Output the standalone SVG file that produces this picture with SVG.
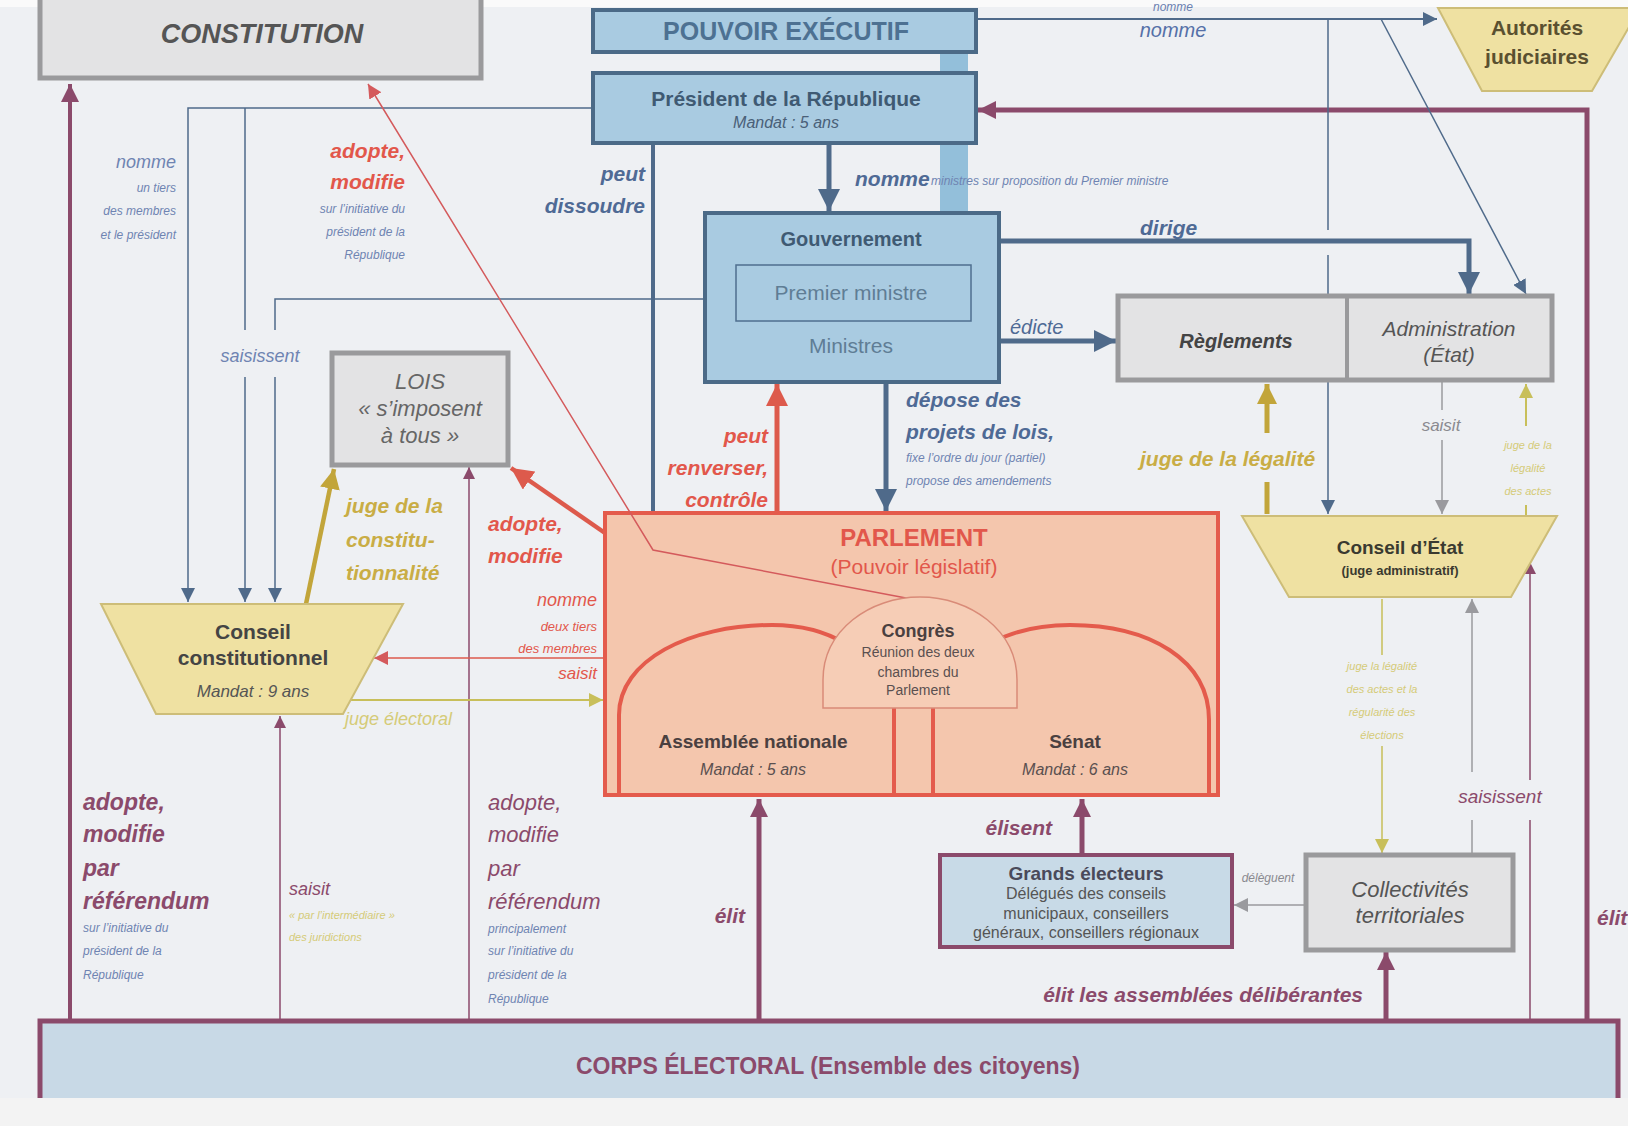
<svg xmlns="http://www.w3.org/2000/svg" width="1628" height="1126" viewBox="0 0 1628 1126">
<defs>
<style>
text{font-family:"Liberation Sans",Arial,sans-serif}
.n{font-family:"Liberation Sans Narrow","Liberation Sans",sans-serif}
.bi{font-weight:bold;font-style:italic}
.i{font-style:italic}
.b{font-weight:bold}
.c{text-anchor:middle}
.e{text-anchor:end}
.gbox{fill:#e3e3e4;stroke:#9a9a9c;stroke-width:5}
.bbox{fill:#a9cbe1;stroke:#4b6a87;stroke-width:4}
.trap{fill:#efe1a2;stroke:#cdbd78;stroke-width:2}
.mar{fill:#8b4a6b}
.blu{fill:#4f6a95}
.sblu{fill:#6f84b2}
.red{fill:#e2574b}
.gold{fill:#c9ad45}
.yel{fill:#d5cb78}
.gry{fill:#8a8a90}
#connectors path{fill:none}
.sM{stroke:#8b4a6b}
.sB{stroke:#4f6a8a}
.sR{stroke:#dd5a4c}
.sG{stroke:#c2a53a}
.sY{stroke:#c8bf5a}
.sGr{stroke:#9a9a9e}
</style>
<marker id="aM" markerUnits="userSpaceOnUse" markerWidth="18" markerHeight="18" refX="18" refY="9" orient="auto"><path d="M0,0 L18,9 L0,18 z" fill="#8b4a6b"/></marker>
<marker id="aMs" markerUnits="userSpaceOnUse" markerWidth="12" markerHeight="12" refX="12" refY="6" orient="auto"><path d="M0,0 L12,6 L0,12 z" fill="#8b4a6b"/></marker>
<marker id="aB" markerUnits="userSpaceOnUse" markerWidth="22" markerHeight="22" refX="22" refY="11" orient="auto"><path d="M0,0 L22,11 L0,22 z" fill="#4f6a8a"/></marker>
<marker id="aBs" markerUnits="userSpaceOnUse" markerWidth="14" markerHeight="14" refX="14" refY="7" orient="auto"><path d="M0,0 L14,7 L0,14 z" fill="#4f6a8a"/></marker>
<marker id="aR" markerUnits="userSpaceOnUse" markerWidth="22" markerHeight="22" refX="22" refY="11" orient="auto"><path d="M0,0 L22,11 L0,22 z" fill="#dd5a4c"/></marker>
<marker id="aRs" markerUnits="userSpaceOnUse" markerWidth="14" markerHeight="14" refX="14" refY="7" orient="auto"><path d="M0,0 L14,7 L0,14 z" fill="#d45a5c"/></marker>
<marker id="aG" markerUnits="userSpaceOnUse" markerWidth="20" markerHeight="20" refX="20" refY="10" orient="auto"><path d="M0,0 L20,10 L0,20 z" fill="#c2a53a"/></marker>
<marker id="aY" markerUnits="userSpaceOnUse" markerWidth="14" markerHeight="14" refX="14" refY="7" orient="auto"><path d="M0,0 L14,7 L0,14 z" fill="#c8bf5a"/></marker>
<marker id="aGr" markerUnits="userSpaceOnUse" markerWidth="14" markerHeight="14" refX="14" refY="7" orient="auto"><path d="M0,0 L14,7 L0,14 z" fill="#9a9a9e"/></marker>
</defs>

<rect x="0" y="0" width="1628" height="1126" fill="#eef0f3"/>
<rect x="0" y="1098" width="1628" height="28" fill="#f3f3f3"/>
<rect x="0" y="0" width="1628" height="7" fill="#fafafa"/>

<!-- background band -->
<rect x="940" y="52" width="28" height="161" fill="#93bfda"/>

<g id="connectors">
<path class="sM" stroke-width="4" d="M70,1021 V84" marker-end="url(#aM)"/>
<path class="sM" stroke-width="1.5" d="M280,1021 V716" marker-end="url(#aMs)"/>
<path class="sM" stroke-width="1.5" d="M469,1021 V467" marker-end="url(#aMs)"/>
<path class="sM" stroke-width="5" d="M759,1021 V799" marker-end="url(#aM)"/>
<path class="sM" stroke-width="5" d="M1082,855 V799" marker-end="url(#aM)"/>
<path class="sM" stroke-width="5" d="M1386,1021 V952" marker-end="url(#aM)"/>
<path class="sM" stroke-width="5" d="M1587,1021 V110 H978" marker-end="url(#aM)"/>
<path class="sM" stroke-width="1.5" d="M1530,1021 V820 M1530,780 V562" marker-end="url(#aMs)"/>
<path class="sGr" stroke-width="1.5" d="M1306,905 H1234" marker-end="url(#aGr)"/>
<path class="sGr" stroke-width="1.5" d="M1472,853 V820 M1472,772 V599" marker-end="url(#aGr)"/>
<path class="sY" stroke-width="1.5" d="M1382,599 V655 M1382,746 V853" marker-end="url(#aY)"/>
<path class="sY" stroke-width="2" d="M1526,516 V505 M1526,426 V384" marker-end="url(#aY)"/>
<path class="sG" stroke-width="5" d="M1267,514 V482 M1267,433 V384" marker-end="url(#aG)"/>
<path class="sGr" stroke-width="1.5" d="M1442,382 V410 M1442,440 V514" marker-end="url(#aGr)"/>
<path class="sB" stroke-width="2" d="M976,19 H1437" marker-end="url(#aBs)"/>
<path class="sB" stroke-width="1.5" d="M1328,19 V230 M1328,255 V294 M1328,382 V514" marker-end="url(#aBs)"/>
<path class="sB" stroke-width="1.5" d="M1381,19 L1526,294" marker-end="url(#aBs)"/>
<path class="sB" stroke-width="5" d="M829,143 V211" marker-end="url(#aB)"/>
<path class="sB" stroke-width="4" d="M653,143 V650" marker-end="url(#aB)"/>
<path class="sR" stroke-width="5" d="M777,628 V384" marker-end="url(#aR)"/>
<path class="sB" stroke-width="5" d="M886,382 V511" marker-end="url(#aB)"/>
<path class="sB" stroke-width="5" d="M999,341 H1116" marker-end="url(#aB)"/>
<path class="sB" stroke-width="5" d="M999,241 H1469 V294" marker-end="url(#aB)"/>
<path class="sB" stroke-width="1.5" d="M593,108 H188 V602" marker-end="url(#aBs)"/>
<path class="sB" stroke-width="1.5" d="M245,108 V330 M245,377 V602" marker-end="url(#aBs)"/>
<path class="sB" stroke-width="1.5" d="M736,299 H275 V330 M275,377 V602" marker-end="url(#aBs)"/>
<path class="sR" stroke-width="4.5" d="M605,533 L511,468" marker-end="url(#aR)"/>
<path class="sG" stroke-width="4.5" d="M306,604 L334,469" marker-end="url(#aG)"/>
<path class="sR" stroke-width="1.5" d="M605,658 H374" marker-end="url(#aRs)"/>
<path class="sY" stroke-width="2" d="M351,700 H603" marker-end="url(#aY)"/>
</g>

<g id="parlement">
<rect x="605" y="513" width="613" height="282" fill="#f4c6ad" stroke="#e45b4c" stroke-width="4"/>
<text x="914" y="546" class="c b red" font-size="24">PARLEMENT</text>
<text x="914" y="574" class="c red" font-size="21">(Pouvoir législatif)</text>
</g>
<g id="assemblee">
<path d="M619,793 V715 C619,660 690,625 772,625 C830,625 870,650 894,700 V793" fill="#f4c6ad" stroke="#e45b4c" stroke-width="4"/>
<text x="753" y="748" class="c b" font-size="19" fill="#4a4040">Assemblée nationale</text>
<text x="753" y="775" class="c i" font-size="16" fill="#5a5050">Mandat : 5 ans</text>
</g>
<g id="senat">
<path d="M933,793 V700 C960,650 1010,625 1070,625 C1150,625 1209,660 1209,720 V793" fill="#f4c6ad" stroke="#e45b4c" stroke-width="4"/>
<text x="1075" y="748" class="c b" font-size="19" fill="#4a4040">Sénat</text>
<text x="1075" y="775" class="c i" font-size="16" fill="#5a5050">Mandat : 6 ans</text>
</g>
<path d="M906,598 L653,550 L368,84" fill="none" stroke="#d45a5c" stroke-width="1.5" marker-end="url(#aRs)"/>
<g id="congres">
<path d="M823,708 V680 C823,630 870,597 920,597 C970,597 1017,630 1017,680 V708 Z" fill="#f6cdb6" stroke="#d98b78" stroke-width="1.5"/>
<text x="918" y="637" class="c b" font-size="18" fill="#4a4040">Congrès</text>
<text x="918" y="657" class="c" font-size="14" fill="#5a5050">Réunion des deux</text>
<text x="918" y="677" class="c" font-size="14" fill="#5a5050">chambres du</text>
<text x="918" y="695" class="c" font-size="14" fill="#5a5050">Parlement</text>
</g>

<g id="constitution">
<rect x="40" y="-6" width="441" height="84" class="gbox"/>
<text x="262" y="43" class="c bi" font-size="27" fill="#555">CONSTITUTION</text>
</g>
<g id="pouvoir-executif">
<rect x="593" y="10" width="383" height="42" class="bbox"/>
<text x="786" y="40" class="c b" font-size="25" fill="#4d7192">POUVOIR EXÉCUTIF</text>
</g>
<g id="president">
<rect x="593" y="73" width="383" height="70" class="bbox"/>
<text x="786" y="106" class="c b" font-size="21" fill="#3f5a73">Président de la République</text>
<text x="786" y="128" class="c i" font-size="16" fill="#4a6078">Mandat : 5 ans</text>
</g>
<g id="gouvernement">
<rect x="705" y="213" width="294" height="169" class="bbox"/>
<text x="851" y="246" class="c b" font-size="20" fill="#3f5a73">Gouvernement</text>
<rect x="736" y="265" width="235" height="56" fill="none" stroke="#4f6f8f" stroke-width="1.5"/>
<text x="851" y="300" class="c" font-size="21" fill="#5f7d95">Premier ministre</text>
<text x="851" y="353" class="c" font-size="21" fill="#5f7d95">Ministres</text>
</g>
<g id="reglements-administration">
<rect x="1118" y="296" width="434" height="84" class="gbox"/>
<line x1="1347" y1="296" x2="1347" y2="380" stroke="#9a9a9c" stroke-width="4"/>
<text x="1236" y="348" class="c bi" font-size="20" fill="#444">Règlements</text>
<text x="1449" y="336" class="c i" font-size="21" fill="#555">Administration</text>
<text x="1449" y="362" class="c i" font-size="21" fill="#555">(État)</text>
</g>
<g id="autorites-judiciaires">
<polygon points="1438,8 1640,8 1592,91 1482,91" class="trap"/>
<text x="1537" y="35" class="c b" font-size="21" fill="#5a5030">Autorités</text>
<text x="1537" y="64" class="c b" font-size="21" fill="#5a5030">judiciaires</text>
</g>
<g id="conseil-etat">
<polygon points="1242,516 1557,516 1511,597 1289,597" class="trap"/>
<text x="1400" y="554" class="c b" font-size="19" fill="#3a3a30">Conseil d’État</text>
<text x="1400" y="575" class="c b" font-size="13" fill="#3a3a30">(juge administratif)</text>
</g>
<g id="conseil-constitutionnel">
<polygon points="101,604 403,604 343,714 156,714" class="trap"/>
<text x="253" y="639" class="c b" font-size="21" fill="#444">Conseil</text>
<text x="253" y="665" class="c b" font-size="21" fill="#444">constitutionnel</text>
<text x="253" y="697" class="c i" font-size="17" fill="#555">Mandat : 9 ans</text>
</g>
<g id="lois">
<rect x="332" y="353" width="176" height="112" class="gbox"/>
<text x="420" y="389" class="c i" font-size="22" fill="#666">LOIS</text>
<text x="420" y="416" class="c i" font-size="22" fill="#666">« s’imposent</text>
<text x="420" y="443" class="c i" font-size="22" fill="#666">à tous »</text>
</g>
<g id="grands-electeurs">
<rect x="940" y="855" width="292" height="92" fill="#c8dae7" stroke="#8b4a6b" stroke-width="4"/>
<text x="1086" y="880" class="c b" font-size="19" fill="#4a4a5a">Grands électeurs</text>
<text x="1086" y="899" class="c" font-size="16" fill="#555">Délégués des conseils</text>
<text x="1086" y="919" class="c" font-size="16" fill="#555">municipaux, conseillers</text>
<text x="1086" y="938" class="c" font-size="16" fill="#555">généraux, conseillers régionaux</text>
</g>
<g id="collectivites">
<rect x="1306" y="855" width="207" height="95" class="gbox"/>
<text x="1410" y="897" class="c i" font-size="22" fill="#555">Collectivités</text>
<text x="1410" y="923" class="c i" font-size="22" fill="#555">territoriales</text>
</g>
<g id="corps-electoral">
<rect x="40" y="1021" width="1578" height="77" fill="#c8d9e6"/>
<path d="M40,1098 V1021 H1618 V1098" fill="none" stroke="#8b4a6b" stroke-width="5"/>
<text x="828" y="1074" class="c b" font-size="23" fill="#8b4a6b">CORPS ÉLECTORAL (Ensemble des citoyens)</text>
</g>

<g id="labels">
<text x="1173" y="11" class="c i" font-size="12" fill="#6a7fb0">nomme</text>
<text x="1173" y="37" class="c i" font-size="20" fill="#5570a8" font-family="DejaVu Sans">nomme</text>
<text x="176" y="168" class="e i n sblu" font-size="18">nomme</text>
<text x="176" y="192" class="e i n sblu" font-size="12">un tiers</text>
<text x="176" y="215" class="e i n sblu" font-size="12">des membres</text>
<text x="176" y="239" class="e i n sblu" font-size="12">et le président</text>
<text x="405" y="158" class="e bi n red" font-size="21">adopte,</text>
<text x="405" y="189" class="e bi n red" font-size="21">modifie</text>
<text x="405" y="213" class="e i n sblu" font-size="12">sur l’initiative du</text>
<text x="405" y="236" class="e i n sblu" font-size="12">président de la</text>
<text x="405" y="259" class="e i n sblu" font-size="12">République</text>
<text x="645" y="181" class="e bi n blu" font-size="21">peut</text>
<text x="645" y="213" class="e bi n blu" font-size="21">dissoudre</text>
<text x="855" y="186" class="bi n blu" font-size="21">nomme</text>
<text x="931" y="185" class="i n sblu" font-size="12">ministres sur proposition du Premier ministre</text>
<text x="1140" y="235" class="bi n blu" font-size="21">dirige</text>
<text x="1010" y="334" class="i n blu" font-size="20">édicte</text>
<text x="260" y="362" class="c i n sblu" font-size="18">saisissent</text>
<text x="346" y="513" class="bi n gold" font-size="21">juge de la</text>
<text x="346" y="547" class="bi n gold" font-size="21">constitu-</text>
<text x="346" y="580" class="bi n gold" font-size="21">tionnalité</text>
<text x="488" y="531" class="bi n red" font-size="21">adopte,</text>
<text x="488" y="563" class="bi n red" font-size="21">modifie</text>
<text x="768" y="443" class="e bi n red" font-size="21">peut</text>
<text x="768" y="475" class="e bi n red" font-size="21">renverser,</text>
<text x="768" y="507" class="e bi n red" font-size="21">contrôle</text>
<text x="906" y="407" class="bi n blu" font-size="21">dépose des</text>
<text x="906" y="439" class="bi n blu" font-size="21">projets de lois,</text>
<text x="906" y="462" class="i n sblu" font-size="12">fixe l’ordre du jour (partiel)</text>
<text x="906" y="485" class="i n sblu" font-size="12">propose des amendements</text>
<text x="1140" y="466" class="bi n gold" font-size="21">juge de la légalité</text>
<text x="1441" y="431" class="c i n gry" font-size="17">saisit</text>
<text x="1528" y="449" class="c i n yel" font-size="11">juge de la</text>
<text x="1528" y="472" class="c i n yel" font-size="11">légalité</text>
<text x="1528" y="495" class="c i n yel" font-size="11">des actes</text>
<text x="597" y="606" class="e i n red" font-size="18">nomme</text>
<text x="597" y="631" class="e i n red" font-size="13">deux tiers</text>
<text x="597" y="653" class="e i n red" font-size="13">des membres</text>
<text x="597" y="679" class="e i n red" font-size="17">saisit</text>
<text x="345" y="725" class="i n yel" font-size="18">juge électoral</text>
<text x="1382" y="670" class="c i n yel" font-size="11">juge la légalité</text>
<text x="1382" y="693" class="c i n yel" font-size="11">des actes et la</text>
<text x="1382" y="716" class="c i n yel" font-size="11">régularité des</text>
<text x="1382" y="739" class="c i n yel" font-size="11">élections</text>
<text x="1500" y="803" class="c i n mar" font-size="19">saisissent</text>
<text x="1597" y="925" class="bi n mar" font-size="21">élit</text>
<text x="1268" y="882" class="c i n gry" font-size="12">délèguent</text>
<text x="1052" y="835" class="e bi n mar" font-size="21">élisent</text>
<text x="1363" y="1002" class="e bi n mar" font-size="21">élit les assemblées délibérantes</text>
<text x="745" y="923" class="e bi n mar" font-size="21">élit</text>
<text x="83" y="810" class="bi n mar" font-size="23">adopte,</text>
<text x="83" y="842" class="bi n mar" font-size="23">modifie</text>
<text x="83" y="876" class="bi n mar" font-size="23">par</text>
<text x="83" y="909" class="bi n mar" font-size="23">référendum</text>
<text x="83" y="932" class="i n sblu" font-size="12">sur l’initiative du</text>
<text x="83" y="955" class="i n sblu" font-size="12">président de la</text>
<text x="83" y="979" class="i n sblu" font-size="12">République</text>
<text x="289" y="895" class="i n mar" font-size="18">saisit</text>
<text x="289" y="919" class="i n yel" font-size="11">« par l’intermédiaire »</text>
<text x="289" y="941" class="i n yel" font-size="11">des juridictions</text>
<text x="488" y="810" class="i n mar" font-size="22">adopte,</text>
<text x="488" y="842" class="i n mar" font-size="22">modifie</text>
<text x="488" y="876" class="i n mar" font-size="22">par</text>
<text x="488" y="909" class="i n mar" font-size="22">référendum</text>
<text x="488" y="933" class="i n sblu" font-size="12">principalement</text>
<text x="488" y="955" class="i n sblu" font-size="12">sur l’initiative du</text>
<text x="488" y="979" class="i n sblu" font-size="12">président de la</text>
<text x="488" y="1003" class="i n sblu" font-size="12">République</text>
</g>
</svg>
